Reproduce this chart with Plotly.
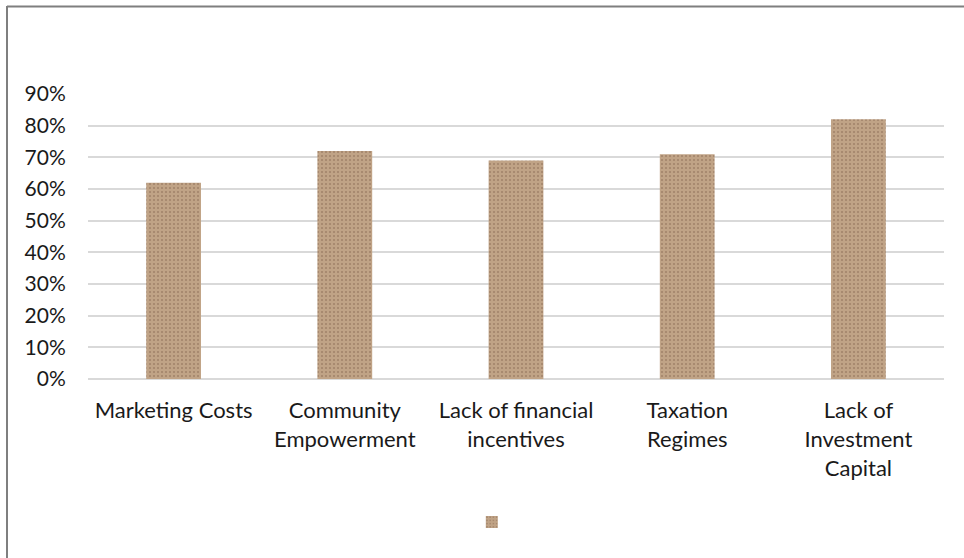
import plotly.graph_objects as go

categories = ["Marketing Costs", "Community<br>Empowerment", "Lack of financial<br>incentives",
              "Taxation<br>Regimes", "Lack of<br>Investment<br>Capital"]
values = [0.62, 0.72, 0.69, 0.71, 0.82]
tick_vals = [0, 0.1, 0.2, 0.3, 0.4, 0.5, 0.6, 0.7, 0.8, 0.9]
tick_text = ["0%", "10%", "20%", "30%", "40%", "50%", "60%", "70%", "80%", "90%"]

W, H = 964, 558
L, R, T, B = 88, 20, 94, 179
pw, ph = W - L - R, H - T - B


def px_x(p):
    return (p - L) / pw


def px_y(p):
    return (H - B - p) / ph


fig = go.Figure()
fig.add_trace(go.Bar(
    x=categories, y=values, name=" ", width=0.32,
    marker=dict(
        color="#bc9f82",
        line=dict(width=0),
        pattern=dict(shape=".", size=4, solidity=0.2, fgcolor="#7d6049",
                     bgcolor="#c0a386", fgopacity=0.5),
    ),
    showlegend=True,
))

grey = "#7f7f7f"
fig.update_layout(
    width=W, height=H,
    margin=dict(l=L, r=R, t=T, b=B),
    paper_bgcolor="white", plot_bgcolor="white",
    font=dict(family="Lato, Open Sans, sans-serif", size=22, color="#1a1a1a"),
    xaxis=dict(showgrid=False, showline=False, ticks="outside", ticklen=12,
               tickcolor="white", tickfont=dict(size=22)),
    yaxis=dict(range=[0, 0.9], tickvals=tick_vals, ticktext=tick_text,
               showgrid=True, gridcolor="#d9d9d9", gridwidth=1.5,
               zeroline=True, zerolinecolor="#d9d9d9", zerolinewidth=1.5,
               ticks="outside", ticklen=17, tickcolor="white",
               tickfont=dict(size=21), showline=False),
    legend=dict(orientation="h", x=0.477, xanchor="center", y=px_y(522), yanchor="middle",
                font=dict(size=12), itemwidth=30),
    shapes=[
        dict(type="line", xref="paper", yref="paper", x0=px_x(7), x1=px_x(970),
             y0=px_y(6.5), y1=px_y(6.5), line=dict(color=grey, width=2)),
        dict(type="line", xref="paper", yref="paper", x0=px_x(7), x1=px_x(7),
             y0=px_y(6), y1=px_y(570), line=dict(color=grey, width=2)),
    ],
    bargap=0.68,
)

fig.write_html("out.html")
